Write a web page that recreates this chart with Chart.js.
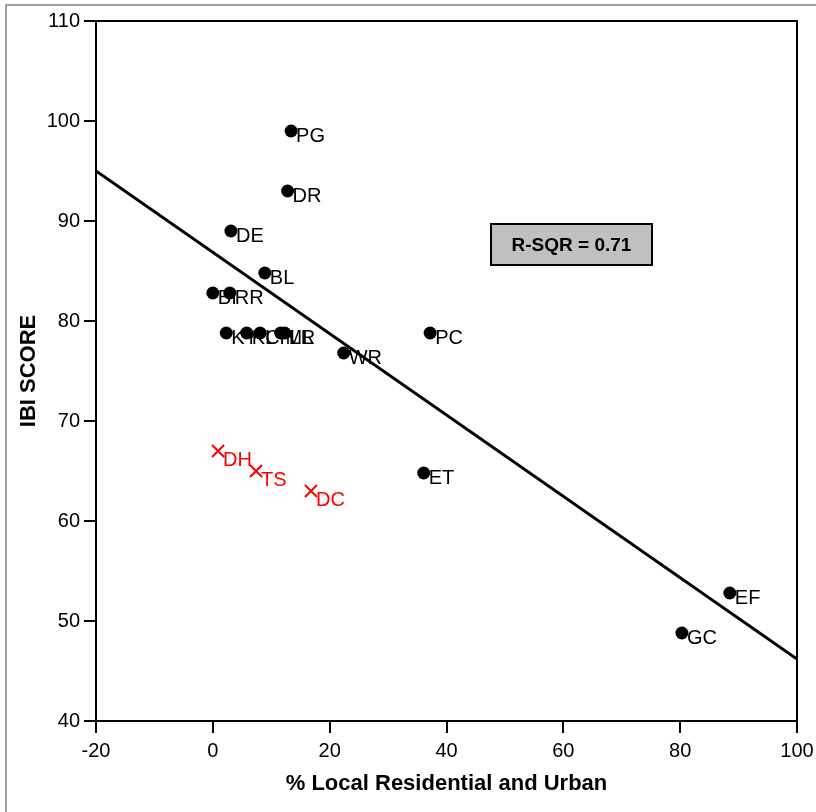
<!DOCTYPE html>
<html>
<head>
<meta charset="utf-8">
<script src="https://cdn.jsdelivr.net/npm/chart.js@4"></script>
<style>
  html, body { margin: 0; padding: 0; background: #fff; }
  #wrap { width: 816px; height: 812px; position: relative; }
</style>
</head>
<body>
<div id="wrap"><canvas id="myChart" width="816" height="812"></canvas></div>
<script>
// sites (black dots)
var siteNames = ['PG', 'DR', 'DE', 'BL', 'BI', 'RR', 'KY', 'KL', 'CH', 'ML', 'LR', 'WR', 'PC', 'ET', 'EF', 'GC'];
var siteX = [13.4, 12.8, 3.1, 8.9, 0.0, 2.9, 2.3, 5.8, 8.1, 11.6, 12.3, 22.4, 37.2, 36.1, 88.5, 80.3];
var siteY = [99.0, 93.0, 89.0, 84.8, 82.8, 82.8, 78.8, 78.8, 78.8, 78.8, 78.8, 76.8, 78.8, 64.8, 52.8, 48.8];

// excluded sites (red crosses)
var outNames = ['DH', 'TS', 'DC'];
var outX = [0.9, 7.4, 16.8];
var outY = [67.0, 65.0, 63.0];

// fitted line ends
var fitX = [-20, 100];
var fitY = [95.0, 46.2];

var xTicks = [-20, 0, 20, 40, 60, 80, 100];
var yTicks = [40, 50, 60, 70, 80, 90, 100, 110];
var rsqText = 'R-SQR = 0.71';

var FONT = 'Arial, "Liberation Sans", sans-serif';

function toPoints(xs, ys) {
    var pts = [];
    for (var i = 0; i < xs.length; i++) {
        pts.push({ x: xs[i], y: ys[i] });
    }
    return pts;
}

// labels next to the points + frame + R-SQR box
var extras = {
    id: 'extras',
    beforeDraw: function (chart) {
        var ctx = chart.ctx;
        ctx.save();
        ctx.fillStyle = '#fff';
        ctx.fillRect(0, 0, chart.width, chart.height);
        ctx.strokeStyle = '#a0a0a0';
        ctx.lineWidth = 2;
        ctx.strokeRect(6, 5, chart.width + 10, chart.height + 10);
        ctx.restore();
    },
    afterDatasetsDraw: function (chart) {
        var ctx = chart.ctx;
        var xs = chart.scales.x, ys = chart.scales.y;
        var a = chart.chartArea;
        ctx.save();

        // frame top and right
        ctx.strokeStyle = '#000';
        ctx.lineWidth = 2;
        ctx.beginPath();
        ctx.moveTo(a.left, a.top);
        ctx.lineTo(a.right, a.top);
        ctx.lineTo(a.right, a.bottom);
        ctx.stroke();

        ctx.font = '20px ' + FONT;
        ctx.textBaseline = 'alphabetic';
        ctx.textAlign = 'left';
        ctx.fillStyle = '#000';
        for (var i = 0; i < siteNames.length; i++) {
            ctx.fillText(siteNames[i], xs.getPixelForValue(siteX[i]) + 5, ys.getPixelForValue(siteY[i]) + 11);
        }
        ctx.fillStyle = '#ff0000';
        for (var j = 0; j < outNames.length; j++) {
            ctx.fillText(outNames[j], xs.getPixelForValue(outX[j]) + 5, ys.getPixelForValue(outY[j]) + 15);
        }

        // R-SQR box
        var bx = 491, by = 224, bw = 161, bh = 41;
        ctx.fillStyle = '#c0c0c0';
        ctx.fillRect(bx, by, bw, bh);
        ctx.strokeStyle = '#000';
        ctx.lineWidth = 2;
        ctx.strokeRect(bx, by, bw, bh);
        ctx.fillStyle = '#000';
        ctx.font = 'bold 19px ' + FONT;
        ctx.textAlign = 'center';
        ctx.textBaseline = 'middle';
        ctx.fillText(rsqText, bx + bw / 2, by + bh / 2 + 1);
        ctx.restore();
    }
};

var ctx = document.getElementById('myChart').getContext('2d');
var chart = new Chart(ctx, {
    type: 'scatter',
    data: {
        datasets: [{
            label: 'fit',
            data: toPoints(fitX, fitY),
            showLine: true,
            borderColor: '#000',
            borderWidth: 3,
            pointRadius: 0,
            fill: false
        }, {
            label: 'sites',
            data: toPoints(siteX, siteY),
            backgroundColor: '#000',
            borderColor: '#000',
            pointRadius: 6.5,
            pointBorderWidth: 0
        }, {
            label: 'excluded',
            data: toPoints(outX, outY),
            pointStyle: 'crossRot',
            borderColor: '#ff0000',
            pointRadius: 8.5,
            pointBorderWidth: 2
        }]
    },
    options: {
        responsive: false,
        animation: false,
        events: [],
        layout: { padding: { left: 0, top: 21, right: 19, bottom: 0 } },
        plugins: {
            legend: { display: false },
            tooltip: { enabled: false }
        },
        scales: {
            x: {
                type: 'linear',
                min: -20,
                max: 100,
                afterBuildTicks: function (scale) {
                    scale.ticks = xTicks.map(function (v) { return { value: v }; });
                },
                afterFit: function (scale) {
                    scale.height = 91;
                    scale.paddingLeft = 0;
                    scale.paddingRight = 0;
                },
                grid: { display: true, drawOnChartArea: false, drawTicks: true, tickLength: 12, color: '#000', lineWidth: 2 },
                border: { display: true, color: '#000', width: 2 },
                ticks: { color: '#000', font: { family: FONT, size: 20 }, padding: 6, maxRotation: 0 },
                title: {
                    display: true,
                    text: '% Local Residential and Urban',
                    color: '#000',
                    font: { family: FONT, size: 22, weight: 'bold' },
                    padding: { top: 0, bottom: 15 }
                }
            },
            y: {
                type: 'linear',
                min: 40,
                max: 110,
                afterBuildTicks: function (scale) {
                    scale.ticks = yTicks.map(function (v) { return { value: v }; });
                },
                afterFit: function (scale) {
                    scale.width = 96;
                    scale.paddingTop = 0;
                    scale.paddingBottom = 0;
                },
                grid: { display: true, drawOnChartArea: false, drawTicks: true, tickLength: 12, color: '#000', lineWidth: 2 },
                border: { display: true, color: '#000', width: 2 },
                ticks: { color: '#000', font: { family: FONT, size: 20 }, padding: 4 },
                title: {
                    display: true,
                    text: 'IBI SCORE',
                    color: '#000',
                    font: { family: FONT, size: 22, weight: 'bold' },
                    padding: { top: 16, bottom: 0 }
                }
            }
        }
    },
    plugins: [extras]
});
</script>
</body>
</html>
